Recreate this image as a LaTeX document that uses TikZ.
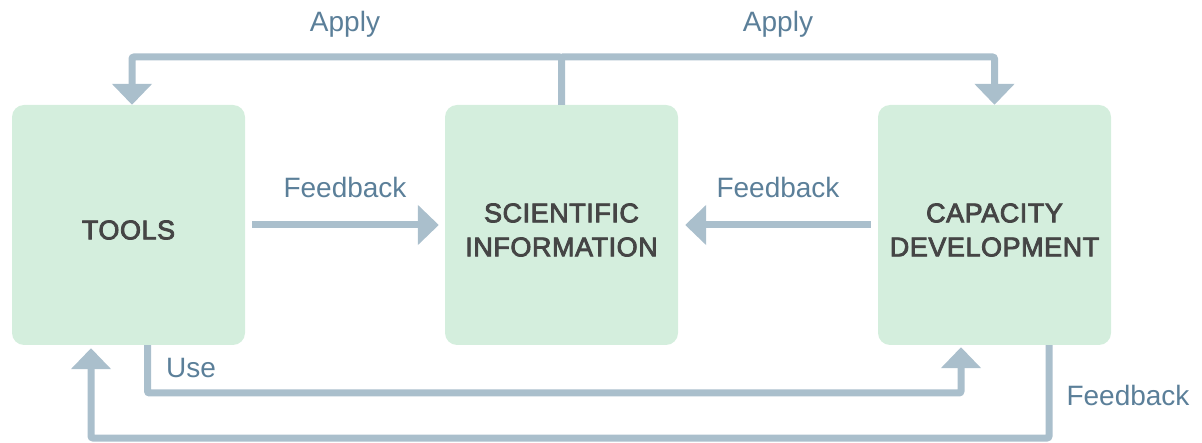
\documentclass[tikz,border=0pt]{standalone}
\usepackage{fontspec}
\setmainfont{Liberation Sans}
\newfontfamily\boxfont[FakeBold=3, LetterSpace=2]{Liberation Sans}
\usepackage{tikz}
\usetikzlibrary{positioning, arrows.meta}
\definecolor{boxgreen}{HTML}{D4EEDD}
\definecolor{flowgray}{HTML}{AABFCC}
\definecolor{labelblue}{HTML}{5B7F99}
\definecolor{boxtext}{HTML}{454545}

\begin{document}
\begin{tikzpicture}[x=1pt, y=-1pt,
          block/.style={fill=boxgreen, rounded corners=12pt, minimum width=233pt, minimum height=240pt},
          blocktext/.style={align=center, text=boxtext, yshift=-5pt, font=\boxfont\fontsize{27}{34}\selectfont},
          flow/.style={draw=flowgray, line width=7pt, rounded corners=2pt, -{Triangle[width=39pt,length=21pt]}},
          lbl/.style={text=labelblue, font=\fontsize{28}{34}\selectfont, inner sep=0pt}]
        \useasboundingbox (0,0) rectangle (1202,443);
        \node[block, label={[blocktext]center:TOOLS}] (tools) at (128.5,225) {};
        \node[block, label={[blocktext]center:SCIENTIFIC\\INFORMATION}] (sci) at (561.5,225) {};
        \node[block, label={[blocktext]center:CAPACITY\\DEVELOPMENT}] (cap) at (994.5,225) {};
        \coordinate (apply_top) at (561.5,57);
        \coordinate (use_bottom) at (147.5,393);
        \coordinate (fb_bottom) at (1049,438);
        \draw[flow] (sci.north) -- (apply_top) -| ([xshift=3.5pt]tools.north);
        \draw[flow] (apply_top) -| (cap.north);
        \draw[flow, shorten <=7pt, shorten >=6pt] (tools.east) -- (sci.west);
        \draw[flow, shorten <=7pt, shorten >=7pt] (cap.west) -- (sci.east);
        \draw[flow, shorten >=2pt] ([xshift=19pt]tools.south) -- (use_bottom) -| ([xshift=-33.5pt]cap.south);
        \draw[flow, shorten >=3pt] ([xshift=54.5pt]cap.south) -- (fb_bottom) -| ([xshift=-37.5pt]tools.south);
        \node[lbl] (apply_left) at (345,24) {Apply};
        \node[lbl] (apply_right) at (778,24) {Apply};
        \node[lbl] (fb_left) at (345,187) {Feedback};
        \node[lbl] (fb_right) at (778,187) {Feedback};
        \node[lbl] (use) at (191,368) {Use};
        \node[lbl] (fb_low) at (1128,395) {Feedback};
      \end{tikzpicture}
\end{document}
